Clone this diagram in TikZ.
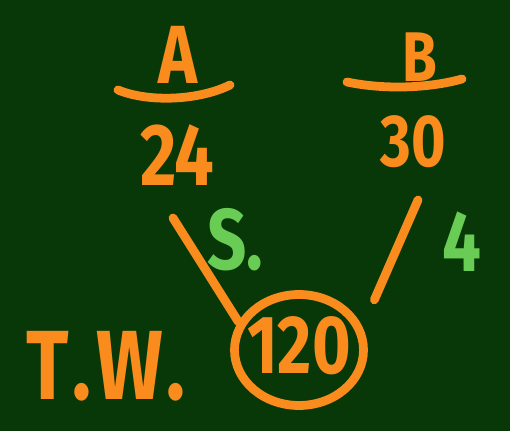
\documentclass[tikz,border=0pt]{standalone}
\usepackage{fontspec}
\newfontfamily\hand{Fira Sans}[FakeStretch=0.8]
\usetikzlibrary{shapes.geometric}
\definecolor{board}{RGB}{8,56,8}
\definecolor{chalkor}{RGB}{250,140,30}
\definecolor{chalkgr}{RGB}{105,205,85}

\begin{document}
\begin{tikzpicture}[
    x=0.02cm, y=-0.02cm,
    stroke/.style={
        draw=chalkor,
        line width=5pt,
        line cap=round
    },
    word/.style={
        font=\hand\bfseries\fontsize{#1}{#1}\selectfont,
        text=chalkor,
        inner sep=0pt
    },
    word/.default=48,
    ring/.style={
        ellipse,
        draw=chalkor,
        line width=5pt,
        minimum width=2.58cm,
        minimum height=2.22cm,
        inner sep=0pt
    }
]

% === Board ===
\fill[board] (0,0) rectangle (510,431);
\useasboundingbox (0,0) rectangle (510,431);

% === A over 24 ===
\node[word=47] (labA) at (178,55) {A};
\draw[stroke] (118,90) .. controls (150,103) and (200,100) .. (230,85);
\node[word=50] (n24) at (177,155) {24};

% === B over 30 ===
\node[word=40] (labB) at (420,57) {B};
\draw[stroke] (347,82) .. controls (385,90) and (430,88) .. (462,79);
\node[word=42] (n30) at (413,142) {30};

% === Total work ===
\node[ring] (c120) at (299,350) {};
\node[word=47] (n120) at (299,346) {120};
\node[word=56] (tw) at (106,366) {T\kern2pt.\kern3pt W\kern2pt.};

% === Side marks ===
\node[word=49, text=chalkgr] (sMark) at (235,240) {S.};
\node[word=49, text=chalkgr] (four) at (462,242) {4};

% === Lines ===
\coordinate (ls) at (173,218);
\coordinate (rs) at (418,200);
\draw[stroke] (ls) -- (c120.155);
\draw[stroke, shorten >=0.59cm] (rs) -- (c120.20);

\end{tikzpicture}
\end{document}
